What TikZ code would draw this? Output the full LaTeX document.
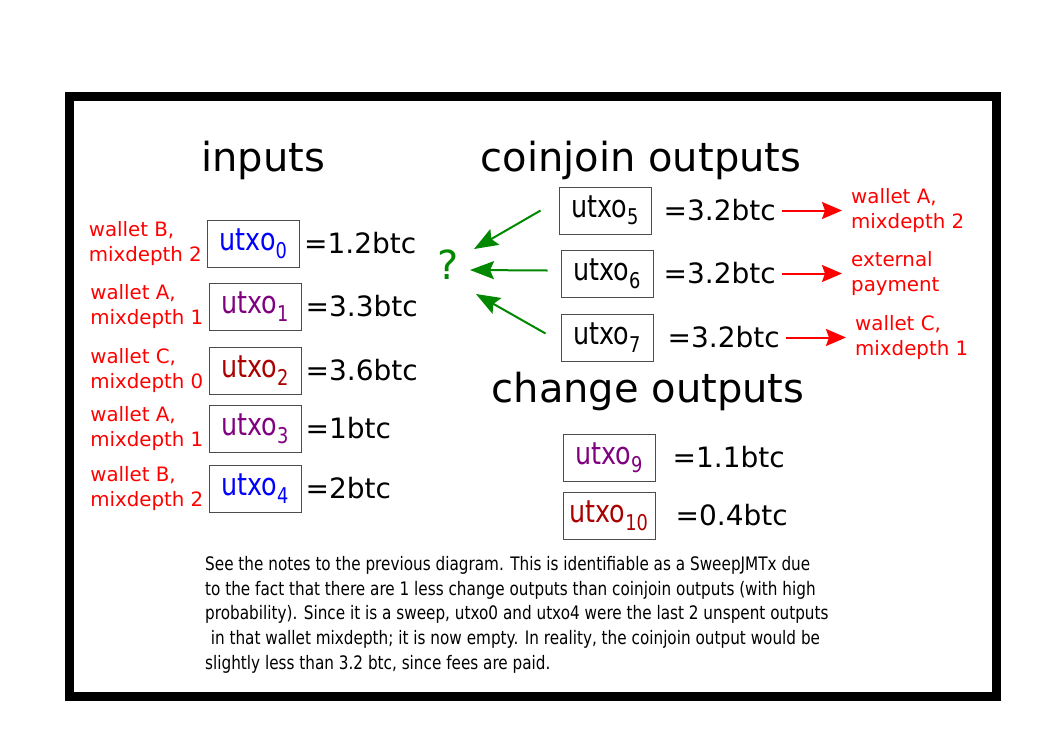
\documentclass[tikz,border=0pt]{standalone}
\usepackage{fontspec}
\setmainfont{DejaVu Sans}
\newfontfamily\condfont{DejaVu Sans}[FakeStretch=0.82]
\usetikzlibrary{arrows.meta,positioning}
\definecolor{utxoblue}{RGB}{0,0,255}
\definecolor{utxopurple}{RGB}{128,0,128}
\definecolor{utxored}{RGB}{170,0,0}
\definecolor{guessgreen}{RGB}{0,136,0}

\begin{document}
\begin{tikzpicture}[
  x=1pt,y=-1pt,
  utxo/.style={draw=black!70,line width=0.9pt,minimum width=92pt,minimum height=47pt,inner sep=0,
    font=\condfont\fontsize{31}{31}\selectfont},
  amount/.style={inner sep=0,font=\fontsize{28}{28}\selectfont},
  owner/.style={align=left,inner sep=0,text=red,font=\fontsize{19.8}{25}\selectfont},
  title/.style={inner sep=0,anchor=base,font=\fontsize{40}{40}\selectfont},
  guess/.style={-{Stealth[length=24pt,width=18pt,inset=4pt]},guessgreen,line width=2pt},
  dest/.style={-{Stealth[length=20pt,width=17pt,inset=3pt]},red,line width=2pt},
]
  \useasboundingbox (0,0) rectangle (1053,745);
  \draw[line width=9pt] (69,96.5) rectangle (996,696);

  \node[title] (tin) at (263,171) {inputs};
  \node[title] (tcj) at (641,171) {coinjoin outputs};
  \node[title] (tch) at (648,402) {change outputs};

  % inputs
  \foreach \i/\x/\y/\c/\v/\w in {0/253.5/243.5/utxoblue/1.2/{wallet B,\\mixdepth 2},
      1/255/306.5/utxopurple/3.3/{wallet A,\\mixdepth 1},
      2/255/370.5/utxored/3.6/{wallet C,\\mixdepth 0},
      3/255/428.5/utxopurple/1/{wallet A,\\mixdepth 1},
      4/255/488.5/utxoblue/2/{wallet B,\\mixdepth 2}} {
    \node[utxo,text=\c] (u\i) at (\x,\y) {utxo\textsubscript{\i}};
    \node[amount,right=4pt of u\i] (a\i) {=\v btc};
    \node[owner,left=5pt of u\i] (o\i) {\w};
  }

  % coinjoin outputs
  \foreach \i/\x/\y/\g/\w in {5/605/210.5/12/{wallet A,\\mixdepth 2},
      6/607/273.5/10/{external\\payment},
      7/607/337.5/14/{wallet C,\\mixdepth 1}} {
    \node[utxo] (u\i) at (\x,\y) {utxo\textsubscript{\i}};
    \node[amount,right=\g pt of u\i] (a\i) {=3.2btc};
    \node[owner,right=75pt of a\i] (o\i) {\w};
    \draw[dest] ([xshift=6pt]a\i.east) -- ([xshift=-9pt]o\i.west);
  }

  % change outputs
  \node[utxo,text=utxopurple] (u9) at (609,457.5) {utxo\textsubscript{9}};
  \node[amount,right=17pt of u9] (a9) {=1.1btc};
  \node[utxo,text=utxored] (u10) at (609,515.5) {utxo\textsubscript{10}};
  \node[amount,right=20pt of u10] (a10) {=0.4btc};

  \node[inner sep=0,text=guessgreen,font=\fontsize{40}{40}\selectfont] (q) at (448,265) {?};
  \draw[guess] ([xshift=-18pt]u5.west) -- ([shift={(26,-16)}]q.center);
  \draw[guess] ([xshift=-13pt,yshift=3pt]u6.west) -- ([shift={(22,5)}]q.center);
  \draw[guess] ([xshift=-15pt,yshift=4pt]u7.west) -- ([shift={(28,29)}]q.center);

  \node[anchor=north west,align=left,inner sep=0,font=\condfont\fontsize{18.6}{24.8}\selectfont] (note) at (205,556)
    {See the notes to the previous diagram. This is identifiable as a SweepJMTx due\\
     to the fact that there are 1 less change outputs than coinjoin outputs (with high\\
     probability). Since it is a sweep, utxo0 and utxo4 were the last 2 unspent outputs\\
     \hspace*{0.3em}in that wallet mixdepth; it is now empty. In reality, the coinjoin output would be\\
     slightly less than 3.2 btc, since fees are paid.};
\end{tikzpicture}
\end{document}
